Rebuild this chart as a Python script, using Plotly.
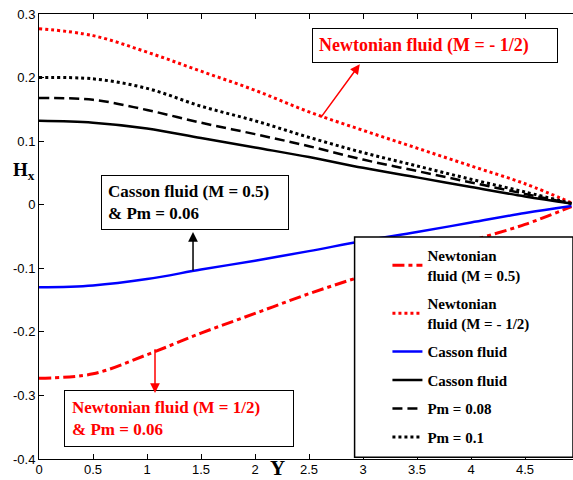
import plotly.graph_objects as go

# Data
Y = [0, 0.5, 1, 1.5, 2, 2.5, 3, 3.5, 4, 4.5, 4.93]
newt_m05 = [-0.273, -0.266, -0.236, -0.202, -0.171, -0.140, -0.112, -0.086, -0.057, -0.031, -0.003]
newt_mneg = [0.277, 0.266, 0.240, 0.210, 0.180, 0.146, 0.117, 0.089, 0.061, 0.033, 0.003]
casson_blue = [-0.130, -0.127, -0.117, -0.102, -0.088, -0.073, -0.057, -0.043, -0.028, -0.013, -0.002]
casson_black = [0.132, 0.129, 0.120, 0.105, 0.090, 0.075, 0.058, 0.043, 0.028, 0.013, 0.002]
pm_008 = [0.168, 0.165, 0.149, 0.129, 0.111, 0.092, 0.071, 0.053, 0.035, 0.017, 0.002]
pm_01 = [0.200, 0.198, 0.183, 0.155, 0.132, 0.106, 0.082, 0.061, 0.040, 0.020, 0.002]

names = ["Newtonian<br>fluid (M = 0.5)", "Newtonian<br>fluid (M = - 1/2)",
         "Casson fluid", "Casson fluid", "Pm = 0.08", "Pm = 0.1"]
series = [newt_m05, newt_mneg, casson_blue, casson_black, pm_008, pm_01]
colors = ["#ff0000", "#ff0000", "#0000ff", "#000000", "#000000", "#000000"]
dashes = ["12px,4px,4px,4px", "3px,3px", "solid", "solid", "10px,5px", "3px,3px"]
widths = [3, 3, 2.5, 2.5, 2.5, 3]

xticks = [0, 0.5, 1, 1.5, 2, 2.5, 3, 3.5, 4, 4.5]
yticks = [-0.4, -0.3, -0.2, -0.1, 0, 0.1, 0.2, 0.3]

serif = "Liberation Serif"
sans = "Liberation Sans"

fig = go.Figure()
for i, (n, s, c, d, w) in enumerate(zip(names, series, colors, dashes, widths)):
    fig.add_trace(go.Scatter(x=Y, y=s, mode="lines", name="<b>" + n + "</b>",
                             legendgroup="g%d" % i,
                             line=dict(color=c, dash=d, width=w, shape="spline")))

fig.update_layout(
    template="none",
    width=573, height=480,
    margin=dict(l=39, r=0, t=14, b=21),
    paper_bgcolor="white", plot_bgcolor="white",
    showlegend=True,
    legend=dict(x=0.6525, y=0.494, xanchor="left", yanchor="top",
                bgcolor="rgba(0,0,0,0)", borderwidth=0,
                font=dict(family=serif, size=15, color="black"),
                tracegroupgap=6),
    font=dict(family=sans, size=13, color="black"),
)
fig.update_xaxes(range=[0, 4.944], tickvals=xticks, ticktext=[f"{v:g}" for v in xticks],
                 ticks="inside", ticklen=5, tickcolor="black", automargin=False,
                 showline=True, linecolor="black", linewidth=1, mirror="ticks",
                 showgrid=False, zeroline=False, ticklabelstandoff=-2,
                 tickfont=dict(family=sans, size=13, color="black"))
fig.update_yaxes(range=[-0.4, 0.3], tickvals=yticks, ticktext=[f"{v:g}" for v in yticks],
                 ticks="inside", ticklen=5, tickcolor="black", automargin=False,
                 showline=True, linecolor="black", linewidth=1, mirror=False,
                 showgrid=False, zeroline=False,
                 tickfont=dict(family=sans, size=13, color="black"))

# Legend frame (covers the lines beneath, as in the reference)
fig.add_shape(type="rect", xref="paper", yref="paper", x0=0.591, x1=1.0, y0=0.004, y1=0.499,
              layer="above", fillcolor="white", line=dict(color="black", width=1.5))

# Boxed labels
fig.add_annotation(x=2.53, y=0.2505, xref="x", yref="y", xanchor="left", showarrow=False,
                   text="<b>Newtonian fluid (M = - 1/2)</b>&nbsp;&nbsp;&nbsp;&nbsp;&nbsp;",
                   font=dict(family=serif, size=18, color="#ff0000"),
                   bordercolor="black", borderwidth=1, borderpad=6, bgcolor="white")
fig.add_annotation(x=0.574, y=0.0035, xref="x", yref="y", xanchor="left", showarrow=False, align="left",
                   text="<b>Casson fluid (M = 0.5)&nbsp;&nbsp;&nbsp;<br>& Pm = 0.06</b>",
                   font=dict(family=serif, size=17, color="black"),
                   bordercolor="black", borderwidth=1, borderpad=6, bgcolor="white")
fig.add_annotation(x=0.231, y=-0.337, xref="x", yref="y", xanchor="left", showarrow=False, align="left",
                   text="<b>Newtonian fluid (M = 1/2)&nbsp;&nbsp;&nbsp;&nbsp;&nbsp;&nbsp;<br>& Pm = 0.06</b>",
                   font=dict(family=serif, size=17, color="#ff0000"),
                   bordercolor="black", borderwidth=1, borderpad=7, bgcolor="white")

# Arrows
fig.add_annotation(x=2.97, y=0.221, ax=2.60, ay=0.135, xref="x", yref="y", axref="x", ayref="y",
                   text="", showarrow=True, arrowhead=2, arrowsize=1.3, arrowwidth=1.5,
                   arrowcolor="#ff0000")
fig.add_annotation(x=1.426, y=-0.043, ax=1.426, ay=-0.106, xref="x", yref="y", axref="x", ayref="y",
                   text="", showarrow=True, arrowhead=2, arrowsize=1.3, arrowwidth=1.5,
                   arrowcolor="black")
fig.add_annotation(x=1.074, y=-0.296, ax=1.074, ay=-0.225, xref="x", yref="y", axref="x", ayref="y",
                   text="", showarrow=True, arrowhead=2, arrowsize=1.3, arrowwidth=1.5,
                   arrowcolor="#ff0000")

# Axis titles
fig.add_annotation(x=-0.052, y=0.648, xref="paper", yref="paper", showarrow=False,
                   text="<b>H<sub>x</sub></b>", font=dict(family=serif, size=19, color="black"))
fig.add_annotation(x=0.446, y=-0.051, xref="paper", yref="paper", showarrow=False,
                   text="<b>Y</b>", font=dict(family=serif, size=21, color="black"))

fig.write_html("out.html", config={"displayModeBar": False},
               post_script="document.body.style.margin='0px';")
